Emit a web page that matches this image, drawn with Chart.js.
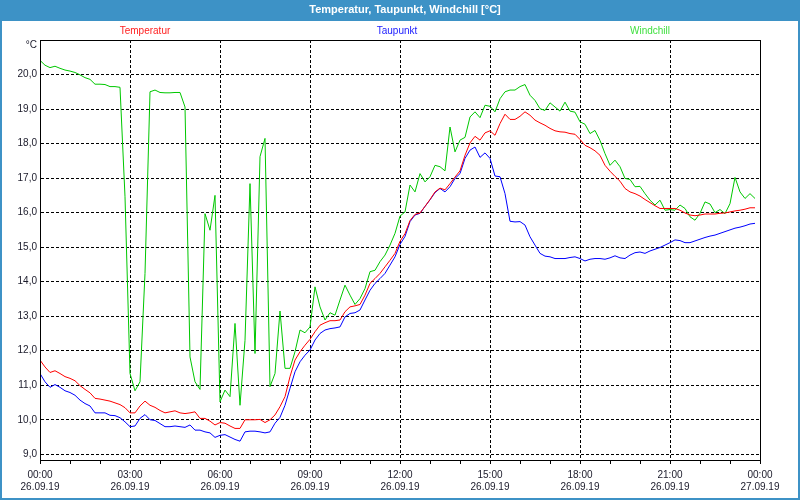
<!DOCTYPE html>
<html>
<head>
<meta charset="utf-8">
<script src="https://cdn.jsdelivr.net/npm/chart.js@4.4.1/dist/chart.umd.min.js"></script>
<style>
  html, body { margin: 0; padding: 0; background: #fff; }
  #wrap { width: 800px; height: 500px; }
</style>
</head>
<body>
<div id="wrap"><canvas id="chart" width="800" height="500"></canvas></div>
<script>
// 10-minute samples, 00:00 .. 23:50 on 26.09.19
const sampleHours = Array.from({ length: 144 }, (_, i) => i / 6);

const temperatur = [
  11.73, 11.53, 11.37, 11.42, 11.34, 11.25,
  11.20, 11.13, 10.99, 10.88, 10.78, 10.62,
  10.60, 10.57, 10.54, 10.49, 10.44, 10.35,
  10.20, 10.20, 10.40, 10.54, 10.42, 10.36,
  10.27, 10.20, 10.23, 10.26, 10.20, 10.18,
  10.20, 10.23, 10.04, 10.04, 9.96, 9.85,
  9.92, 9.90, 9.82, 9.75, 9.75, 10.00,
  10.00, 10.00, 10.01, 9.92, 10.00, 10.14,
  10.38, 10.67, 11.25, 11.73, 11.97, 12.16,
  12.33, 12.55, 12.74, 12.81, 12.87, 12.87,
  12.89, 13.13, 13.27, 13.30, 13.34, 13.61,
  13.95, 14.09, 14.24, 14.43, 14.62, 14.82,
  15.17, 15.39, 15.77, 15.95, 15.99, 16.18,
  16.38, 16.60, 16.71, 16.66, 16.84, 17.03,
  17.21, 17.66, 18.02, 18.21, 18.10, 18.31,
  18.37, 18.24, 18.58, 18.85, 18.70, 18.70,
  18.79, 18.92, 18.82, 18.68, 18.60, 18.53,
  18.44, 18.37, 18.34, 18.33, 18.29, 18.27,
  18.12, 17.95, 17.88, 17.79, 17.66, 17.37,
  17.20, 17.05, 16.91, 16.70, 16.60, 16.55,
  16.48, 16.38, 16.29, 16.20, 16.12, 16.12,
  16.12, 16.12, 16.07, 15.99, 15.93, 15.91,
  15.93, 15.96, 15.96, 15.96, 15.98, 15.99,
  16.02, 16.05, 16.07, 16.10, 16.14, 16.14
];

const taupunkt = [
  11.34, 11.10, 10.94, 11.02, 10.94, 10.84,
  10.79, 10.71, 10.57, 10.47, 10.40, 10.20,
  10.20, 10.20, 10.13, 10.12, 10.06, 9.94,
  9.80, 9.82, 10.04, 10.15, 10.00, 9.98,
  9.89, 9.80, 9.80, 9.82, 9.80, 9.78,
  9.85, 9.70, 9.70, 9.65, 9.62, 9.49,
  9.55, 9.57, 9.50, 9.43, 9.38, 9.65,
  9.67, 9.67, 9.65, 9.62, 9.65, 9.90,
  10.07, 10.42, 10.91, 11.39, 11.68, 11.87,
  12.02, 12.31, 12.50, 12.60, 12.64, 12.66,
  12.69, 12.98, 13.08, 13.10, 13.18, 13.47,
  13.75, 13.95, 14.09, 14.24, 14.48, 14.72,
  15.08, 15.31, 15.74, 15.93, 15.98, 16.18,
  16.37, 16.58, 16.70, 16.60, 16.75, 16.99,
  17.13, 17.57, 17.81, 17.90, 17.60, 17.73,
  17.57, 17.06, 17.04, 16.55, 15.75, 15.73,
  15.74, 15.64, 15.30, 15.06, 14.82, 14.74,
  14.72, 14.67, 14.67, 14.67, 14.70, 14.72,
  14.67, 14.60, 14.65, 14.67, 14.67, 14.65,
  14.69, 14.75, 14.69, 14.67, 14.77, 14.84,
  14.86, 14.82, 14.89, 14.94, 14.99, 15.06,
  15.13, 15.21, 15.19, 15.13, 15.13, 15.18,
  15.23, 15.28, 15.32, 15.35, 15.40, 15.45,
  15.50, 15.55, 15.58, 15.62, 15.67, 15.69
];

const windchill = [
  20.41, 20.27, 20.20, 20.24, 20.18, 20.13,
  20.10, 20.06, 19.99, 19.91, 19.86, 19.72,
  19.72, 19.71, 19.65, 19.65, 19.63, 16.46,
  11.34, 10.84, 11.10, 14.24, 19.50, 19.55,
  19.48, 19.47, 19.47, 19.48, 19.48, 19.06,
  11.82, 11.10, 10.88, 15.97, 15.49, 16.50,
  10.52, 10.86, 10.67, 12.79, 10.42, 12.30,
  16.84, 11.92, 17.62, 18.15, 10.96, 11.34,
  13.15, 11.49, 11.49, 11.97, 12.60, 12.52,
  12.69, 13.85, 13.27, 12.89, 13.10, 13.03,
  13.47, 13.90, 13.61, 13.34, 13.51, 13.80,
  14.29, 14.33, 14.58, 14.77, 15.06, 15.40,
  15.90, 16.02, 16.80, 16.60, 17.13, 16.89,
  17.04, 17.37, 17.33, 17.21, 18.48, 17.76,
  18.10, 18.18, 18.77, 18.92, 18.75, 19.11,
  19.08, 18.92, 19.30, 19.50, 19.55, 19.55,
  19.65, 19.71, 19.40, 19.25, 19.01, 18.96,
  19.18, 19.06, 18.94, 19.20, 18.94, 18.91,
  18.63, 18.56, 18.29, 18.38, 18.09, 17.71,
  17.37, 17.52, 17.33, 16.99, 16.96, 16.75,
  16.76, 16.55, 16.36, 16.22, 16.36, 16.07,
  16.09, 16.07, 16.22, 16.12, 15.88, 15.78,
  15.98, 16.31, 16.25, 16.00, 16.09, 15.97,
  16.26, 17.02, 16.60, 16.41, 16.55, 16.41
];

// axis labels
const yTicks = [9, 10, 11, 12, 13, 14, 15, 16, 17, 18, 19, 20];
const xTimeLabels = ['00:00', '03:00', '06:00', '09:00', '12:00', '15:00', '18:00', '21:00', '00:00'];
const xDateLabels = ['26.09.19', '26.09.19', '26.09.19', '26.09.19', '26.09.19',
                     '26.09.19', '26.09.19', '26.09.19', '27.09.19'];

const seriesNames = ['Temperatur', 'Taupunkt', 'Windchill'];
const lineColors = ['#ff0000', '#0000ff', '#00c800'];
const legendColors = ['#ff2020', '#2020ff', '#40e040'];
const legendCenters = [145, 397, 650];

const FONT = 'Liberation Sans, Arial, sans-serif';
const BAR_BLUE = '#3d92c6';
const TEXT = '#1a1a2a';

// draws title bar, outer frame, legend texts, unit label and plot border
const framePlugin = {
  id: 'frame',
  beforeDraw(chart) {
    const ctx = chart.ctx;
    ctx.save();
    ctx.fillStyle = '#ffffff';
    ctx.fillRect(0, 0, chart.width, chart.height);
    ctx.fillStyle = BAR_BLUE;
    ctx.fillRect(0, 0, chart.width, 21);
    ctx.fillStyle = '#ffffff';
    ctx.font = 'bold 11px ' + FONT;
    ctx.textAlign = 'center';
    ctx.textBaseline = 'middle';
    ctx.fillText('Temperatur, Taupunkt, Windchill [°C]', 405, 10);
    ctx.restore();
  },
  afterDraw(chart) {
    const ctx = chart.ctx;
    const a = chart.chartArea;
    ctx.save();
    ctx.strokeStyle = '#000';
    ctx.lineWidth = 1;
    ctx.strokeRect(Math.round(a.left) + 0.5, Math.round(a.top) + 0.5,
                   Math.round(a.right - a.left), Math.round(a.bottom - a.top));

    ctx.font = '10px ' + FONT;
    ctx.textAlign = 'center';
    ctx.textBaseline = 'middle';
    seriesNames.forEach((name, i) => {
      ctx.fillStyle = legendColors[i];
      ctx.fillText(name, legendCenters[i], 31);
    });

    ctx.fillStyle = TEXT;
    ctx.textAlign = 'right';
    ctx.fillText('°C', 37, 45);

    ctx.strokeStyle = BAR_BLUE;
    ctx.lineWidth = 2;
    ctx.strokeRect(1, 1, chart.width - 2, chart.height - 2);
    ctx.restore();
  }
};

const makeSeries = values => values.map((v, i) => ({ x: sampleHours[i], y: v }));

new Chart(document.getElementById('chart'), {
  type: 'line',
  data: {
    datasets: seriesNames.map((name, i) => ({
      label: name,
      data: makeSeries([temperatur, taupunkt, windchill][i]),
      borderColor: lineColors[i],
      borderWidth: 1,
      pointRadius: 0,
      tension: 0,
      fill: false
    }))
  },
  options: {
    responsive: false,
    animation: false,
    layout: { padding: { top: 40, right: 40, left: 0, bottom: 0 } },
    plugins: {
      legend: { display: false },
      title: { display: false },
      tooltip: { enabled: false }
    },
    scales: {
      x: {
        type: 'linear',
        min: 0,
        max: 24,
        afterFit: scale => { scale.height = 40; },
        border: { display: true, color: '#000', dash: [3, 2] },
        grid: {
          color: c => (c.tick && c.tick.value % 3 === 0) ? '#000' : 'rgba(0,0,0,0)',
          tickColor: '#000',
          tickLength: 4,
          tickBorderDash: []
        },
        ticks: {
          stepSize: 1,
          autoSkip: false,
          maxRotation: 0,
          padding: 5,
          color: TEXT,
          font: { family: FONT, size: 10 },
          callback: v => {
            if (v % 3 !== 0) return '';
            const k = v / 3;
            return [xTimeLabels[k], xDateLabels[k]];
          }
        }
      },
      y: {
        type: 'linear',
        min: 8.835,
        max: 21.0,
        afterFit: scale => { scale.width = 40; },
        afterBuildTicks: scale => { scale.ticks = yTicks.map(v => ({ value: v })); },
        border: { display: true, color: '#000', dash: [3, 2] },
        grid: {
          color: '#000',
          drawTicks: false
        },
        ticks: {
          padding: 3,
          color: TEXT,
          font: { family: FONT, size: 10 },
          callback: v => v.toFixed(1).replace('.', ',')
        }
      }
    }
  },
  plugins: [framePlugin]
});
</script>
</body>
</html>
